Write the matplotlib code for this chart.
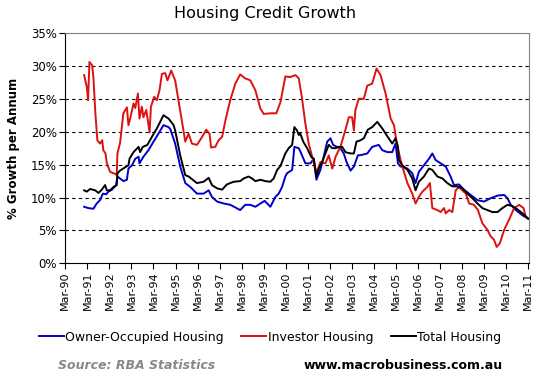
import matplotlib
matplotlib.use("Agg")
import matplotlib.pyplot as plt

# decimal years and % growth
inv_t = [1991.02, 1991.14, 1991.20, 1991.26, 1991.38, 1991.44, 1991.53, 1991.62, 1991.74, 1991.84,
         1991.89, 1991.99, 1992.05, 1992.20, 1992.43, 1992.50, 1992.53, 1992.65, 1992.80, 1992.96,
         1993.03, 1993.11, 1993.26, 1993.34, 1993.46, 1993.53, 1993.64, 1993.71, 1993.84, 1993.99,
         1994.05, 1994.20, 1994.32, 1994.44, 1994.55, 1994.70, 1994.80, 1994.97, 1995.15, 1995.30,
         1995.46, 1995.61, 1995.76, 1995.91, 1996.14, 1996.37, 1996.56, 1996.71, 1996.78, 1996.97,
         1997.12, 1997.28, 1997.43, 1997.65, 1997.88, 1998.10, 1998.33, 1998.56, 1998.79, 1999.02,
         1999.17, 1999.47, 1999.74, 1999.93, 2000.15, 2000.37, 2000.61, 2000.76, 2000.91, 2001.06,
         2001.21, 2001.37, 2001.56, 2001.74, 2001.97, 2002.12, 2002.28, 2002.43, 2002.65, 2002.87,
         2003.03, 2003.18, 2003.26, 2003.33, 2003.48, 2003.71, 2003.87, 2004.09, 2004.29, 2004.47,
         2004.70, 2004.93, 2005.08, 2005.17, 2005.31, 2005.46, 2005.69, 2005.91, 2006.06, 2006.21,
         2006.37, 2006.59, 2006.71, 2006.82, 2007.05, 2007.20, 2007.35, 2007.43, 2007.58, 2007.73,
         2007.88, 2008.03, 2008.18, 2008.34, 2008.49, 2008.71, 2008.89, 2009.09, 2009.32, 2009.47,
         2009.62, 2009.74, 2009.89, 2010.08, 2010.30, 2010.53, 2010.76, 2010.96, 2011.06, 2011.17]
investor = [28.6, 26.8, 24.8, 30.6, 30.1, 28.3, 22.8, 18.7, 18.2, 18.7,
            17.2, 16.7, 15.2, 13.9, 13.6, 13.4, 16.7, 18.3, 22.8, 23.7,
            21.0, 22.0, 24.3, 23.6, 25.8, 22.0, 23.8, 22.2, 23.3, 19.9,
            23.8, 25.3, 24.8, 26.3, 28.8, 28.9, 27.8, 29.3, 27.8, 24.8,
            21.7, 18.5, 19.7, 18.2, 18.0, 19.2, 20.3, 19.7, 17.6, 17.7,
            18.7, 19.2, 21.7, 24.8, 27.3, 28.7, 28.1, 27.8, 26.3, 23.5,
            22.7, 22.8, 22.8, 24.5, 28.4, 28.3, 28.6, 28.1, 25.0, 21.2,
            18.2, 16.2, 13.7, 15.4, 15.2, 16.4, 14.4, 16.2, 17.7, 20.2,
            22.2, 22.2, 20.2, 23.3, 25.0, 25.0, 27.0, 27.3, 29.6, 28.6,
            25.8, 22.0, 21.0, 19.0, 16.7, 14.7, 12.2, 10.6, 9.1, 10.1,
            10.9, 11.6, 12.2, 8.4, 8.1, 7.8, 8.4, 7.6, 8.1, 7.8,
            11.1, 11.6, 11.1, 10.6, 9.1, 8.9, 8.1, 6.1, 5.1, 4.1,
            3.6, 2.5, 3.1, 5.1, 6.6, 8.4, 8.9, 8.4, 7.1, 6.8]

own_t = [1991.02, 1991.21, 1991.44, 1991.59, 1991.74, 1991.87, 1992.02, 1992.12, 1992.28, 1992.47,
         1992.53, 1992.65, 1992.80, 1992.96, 1993.03, 1993.19, 1993.34, 1993.49, 1993.53, 1993.71,
         1993.94, 1994.17, 1994.39, 1994.62, 1994.85, 1994.93, 1995.15, 1995.38, 1995.61, 1995.84,
         1996.14, 1996.44, 1996.67, 1996.82, 1997.05, 1997.35, 1997.65, 1997.88, 1998.10, 1998.33,
         1998.56, 1998.79, 1999.02, 1999.21, 1999.47, 1999.70, 1999.85, 2000.00, 2000.15, 2000.23,
         2000.46, 2000.56, 2000.76, 2000.87, 2001.06, 2001.29, 2001.44, 2001.56, 2001.74, 2001.89,
         2002.05, 2002.20, 2002.32, 2002.50, 2002.65, 2002.80, 2002.93, 2003.11, 2003.26, 2003.44,
         2003.64, 2003.87, 2004.09, 2004.39, 2004.55, 2004.78, 2005.00, 2005.15, 2005.26, 2005.38,
         2005.46, 2005.69, 2005.91, 2006.06, 2006.21, 2006.44, 2006.67, 2006.82, 2006.97, 2007.20,
         2007.43, 2007.65, 2007.80, 2008.03, 2008.26, 2008.56, 2008.87, 2009.17, 2009.47, 2009.78,
         2010.08, 2010.23, 2010.38, 2010.61, 2010.91, 2011.17]
owner = [8.6, 8.4, 8.3, 9.1, 9.6, 10.6, 10.5, 10.9, 11.2, 11.9,
         13.2, 12.9, 12.5, 12.7, 14.4, 14.9, 15.9, 16.2, 15.2, 16.2,
         17.2, 18.5, 19.7, 21.0, 20.7, 20.4, 18.2, 14.7, 12.2, 11.6,
         10.6, 10.6, 11.1, 10.1, 9.4, 9.1, 8.9, 8.5, 8.1, 8.9,
         8.9, 8.6, 9.1, 9.5, 8.6, 10.1, 10.6, 11.6, 13.2, 13.7,
         14.2, 17.7, 17.5, 16.7, 15.2, 15.2, 15.9, 12.7, 14.2, 16.2,
         18.5, 19.0, 18.0, 17.7, 17.5, 16.7, 15.4, 14.1, 14.7, 16.4,
         16.5, 16.7, 17.7, 18.0, 17.2, 16.9, 16.9, 18.2, 15.2, 14.7,
         14.7, 14.4, 13.7, 12.2, 13.9, 14.9, 15.9, 16.7, 15.7, 15.2,
         14.7, 13.2, 11.9, 12.0, 11.2, 10.4, 9.6, 9.4, 9.9, 10.3,
         10.4, 9.9, 8.9, 8.1, 7.3, 6.8]

tot_t = [1991.02, 1991.14, 1991.29, 1991.52, 1991.67, 1991.82, 1991.97, 1992.05, 1992.20, 1992.35,
         1992.50, 1992.53, 1992.65, 1992.88, 1993.03, 1993.08, 1993.26, 1993.49, 1993.56, 1993.68,
         1993.89, 1994.09, 1994.32, 1994.47, 1994.62, 1994.85, 1995.08, 1995.15, 1995.38, 1995.61,
         1995.76, 1996.14, 1996.44, 1996.67, 1996.82, 1997.05, 1997.28, 1997.50, 1997.80, 1998.10,
         1998.26, 1998.48, 1998.64, 1998.79, 1999.02, 1999.24, 1999.47, 1999.62, 1999.78, 1999.93,
         2000.15, 2000.30, 2000.46, 2000.56, 2000.68, 2000.76, 2000.83, 2000.96, 2001.14, 2001.32,
         2001.44, 2001.56, 2001.67, 2001.82, 2001.97, 2002.12, 2002.28, 2002.43, 2002.58, 2002.73,
         2002.88, 2003.11, 2003.26, 2003.38, 2003.56, 2003.71, 2003.89, 2004.09, 2004.32, 2004.55,
         2004.78, 2005.00, 2005.15, 2005.26, 2005.30, 2005.46, 2005.69, 2005.91, 2006.06, 2006.21,
         2006.44, 2006.67, 2006.82, 2007.05, 2007.28, 2007.50, 2007.73, 2007.96, 2008.18, 2008.41,
         2008.64, 2008.87, 2009.09, 2009.32, 2009.55, 2009.78, 2010.00, 2010.23, 2010.46, 2010.69,
         2010.91, 2011.17]
total = [11.1, 10.9, 11.3, 11.1, 10.7, 11.2, 11.9, 11.1, 11.1, 11.6,
         11.9, 13.7, 14.1, 14.6, 14.9, 15.9, 16.9, 17.7, 16.9, 17.7,
         18.0, 19.2, 20.5, 21.5, 22.5, 22.0, 21.0, 20.2, 16.4, 13.4,
         13.2, 12.2, 12.4, 13.0, 11.9, 11.4, 11.2, 12.0, 12.4, 12.5,
         12.9, 13.2, 12.9, 12.5, 12.7, 12.5, 12.4, 12.9, 14.2, 14.8,
         16.7, 17.5, 18.0, 20.7, 20.2, 19.5, 19.7, 18.5, 17.5, 16.2,
         15.9, 13.2, 14.4, 15.4, 16.7, 18.0, 17.5, 17.5, 17.7, 17.7,
         16.9, 16.7, 16.7, 18.5, 18.7, 19.0, 20.3, 20.7, 21.5, 20.5,
         19.3, 18.2, 19.0, 17.7, 15.7, 14.9, 14.2, 12.9, 11.1, 12.4,
         13.2, 14.4, 14.2, 13.2, 12.9, 12.2, 11.7, 11.7, 11.4, 10.6,
         9.9, 9.1, 8.4, 8.1, 7.8, 7.8, 8.4, 8.9, 8.7, 8.2,
         7.6, 6.8]

tick_years = list(range(1990, 2012))
tick_labels = ["Mar-%02d" % (y % 100) for y in tick_years]
tick_pos = [y + 2 / 12 for y in tick_years]

fig = plt.figure(figsize=(5.4, 3.79), dpi=100)
ax = fig.add_axes([0.121, 0.305, 0.859, 0.608])

ax.plot(own_t, owner, color="#0000cc", lw=1.4, label="Owner-Occupied Housing")
ax.plot(inv_t, investor, color="#dd1111", lw=1.4, label="Investor Housing")
ax.plot(tot_t, total, color="black", lw=1.4, label="Total Housing")

ax.set_xlim(tick_pos[0], tick_pos[-1] + 0.05)
ax.set_ylim(0, 35)
ax.set_yticks(range(0, 36, 5))
ax.set_yticklabels(["%d%%" % v for v in range(0, 36, 5)], fontsize=8.5)
ax.set_xticks(tick_pos)
ax.set_xticklabels(tick_labels, rotation=90, fontsize=8)
ax.tick_params(direction="out", length=4, width=0.8, pad=2)
for v in range(5, 35, 5):
    ax.axhline(v, color="black", lw=0.8, ls=(0, (3, 3)), zorder=0)
ax.spines["top"].set_color("#808080")
ax.spines["right"].set_color("#808080")
ax.set_ylabel("% Growth per Annum", fontsize=8.5, fontweight="bold", labelpad=8)

fig.text(0.49, 0.965, "Housing Credit Growth", ha="center", va="center", fontsize=11.5)
fig.legend(loc="center", bbox_to_anchor=(0.5, 0.11), ncol=3, frameon=False, fontsize=9,
           handlelength=2.0, handletextpad=0.1, columnspacing=1.4)
fig.text(0.107, 0.035, "Source: RBA Statistics", color="#888888", fontsize=9,
         fontweight="bold", style="italic", va="center")
fig.text(0.93, 0.035, "www.macrobusiness.com.au", color="black", fontsize=9,
         fontweight="bold", ha="right", va="center")

fig.savefig("out.png", dpi=100)
